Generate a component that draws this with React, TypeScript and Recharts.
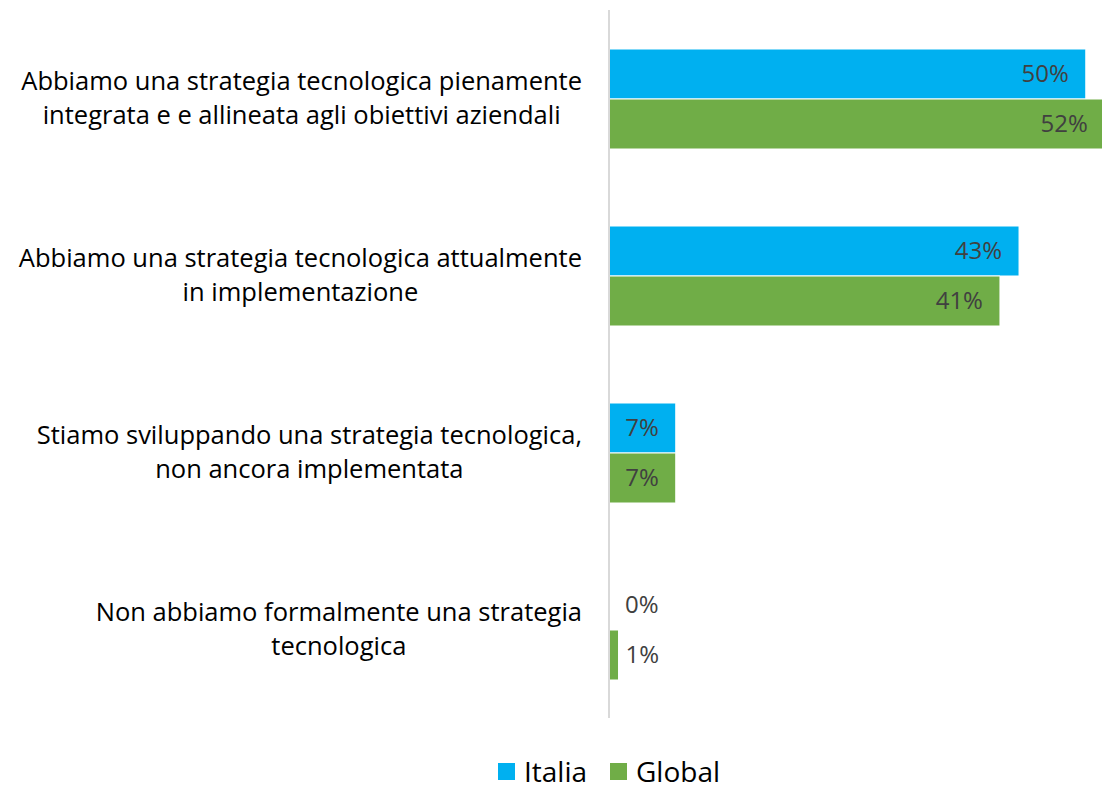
import { BarChart, Bar, XAxis, YAxis, Legend, LabelList, Rectangle } from "recharts";

const categories = [
  "Abbiamo una strategia tecnologica pienamente\nintegrata e e allineata agli obiettivi aziendali",
  "Abbiamo una strategia tecnologica attualmente\nin implementazione",
  "Stiamo sviluppando una strategia tecnologica,\nnon ancora implementata",
  "Non abbiamo formalmente una strategia\ntecnologica",
];
const italia = [50, 43, 7, 0];
const global = [52, 41, 7, 1];
const seriesNames = ["Italia", "Global"];
const seriesColors = ["#00B0F0", "#70AD47"];

const data = categories.map((name, i) => ({ name, italia: italia[i], global: global[i] }));

const FONT = "'Open Sans', 'Noto Sans', sans-serif";
const LABEL_SIZE = 25.5;

let canvasCtx: CanvasRenderingContext2D | null = null;
function measure(text: string, size: number) {
  if (!canvasCtx) canvasCtx = document.createElement("canvas").getContext("2d");
  if (!canvasCtx) return text.length * size * 0.53;
  canvasCtx.font = `${size}px 'Open Sans'`;
  return canvasCtx.measureText(text).width;
}

function CategoryTick(props: any) {
  const { x, y, payload } = props;
  const lines: string[] = String(payload.value).split("\n");
  const blockW = Math.max(...lines.map((l) => measure(l, LABEL_SIZE)));
  const cx = x - 19 - blockW / 2;
  const lineH = 34;
  const startY = y - ((lines.length - 1) * lineH) / 2 + 8;
  return (
    <g>
      {lines.map((l, i) => (
        <text key={i} x={cx} y={startY + i * lineH} textAnchor="middle" fill="#000" fontSize={LABEL_SIZE} fontFamily={FONT}>
          {l}
        </text>
      ))}
    </g>
  );
}

function ValueLabel(props: any) {
  const { x, y, width, height, value } = props;
  const small = value < 3;
  const tx = small ? (value === 0 ? x + 16 : x + width + 7) : x + width - 17;
  return (
    <text x={tx} y={y + height / 2 + 8} textAnchor={small ? "start" : "end"} fill="#404040" fontSize={24} fontFamily={FONT}>
      {`${value}%`}
    </text>
  );
}

// keeps zero-value bars invisible while still giving LabelList an entry
function BarShape(props: any) {
  if (!props.value) return <g />;
  return <Rectangle {...props} />;
}

function LegendContent() {
  return (
    <div style={{ height: 70, display: "flex", justifyContent: "center", alignItems: "flex-start", paddingTop: 37, paddingLeft: 116, boxSizing: "border-box", fontFamily: FONT, fontSize: 28, color: "#000" }}>
      {seriesNames.map((n, i) => (
        <div key={n} style={{ display: "flex", alignItems: "center", marginLeft: i ? 23 : 0 }}>
          <span style={{ display: "inline-block", width: 17, height: 17, background: seriesColors[i], marginRight: 9 }} />
          <span style={{ lineHeight: "32px" }}>{n}</span>
        </div>
      ))}
    </div>
  );
}

export default function App() {
  return (
    <div style={{ position: "absolute", left: 0, top: 0, background: "#fff" }}>
      <BarChart
        width={1102}
        height={788}
        data={data}
        layout="vertical"
        margin={{ top: 10, right: 0, bottom: 0, left: 0 }}
        barGap={0}
      >
        <XAxis type="number" domain={[0, 51.7]} allowDataOverflow hide />
        <YAxis
          type="category"
          dataKey="name"
          width={609}
          axisLine={{ stroke: "#D9D9D9", strokeWidth: 2 }}
          tickLine={false}
          tick={<CategoryTick />}
          interval={0}
        />
        <Legend verticalAlign="bottom" align="center" content={<LegendContent />} />
        <Bar dataKey="italia" name="Italia" fill={seriesColors[0]} barSize={50} minPointSize={1} shape={<BarShape />} stroke="#fff" strokeWidth={1} isAnimationActive={false}>
          <LabelList dataKey="italia" content={<ValueLabel />} />
        </Bar>
        <Bar dataKey="global" name="Global" fill={seriesColors[1]} barSize={50} minPointSize={1} shape={<BarShape />} stroke="#fff" strokeWidth={1} isAnimationActive={false}>
          <LabelList dataKey="global" content={<ValueLabel />} />
        </Bar>
      </BarChart>
    </div>
  );
}
